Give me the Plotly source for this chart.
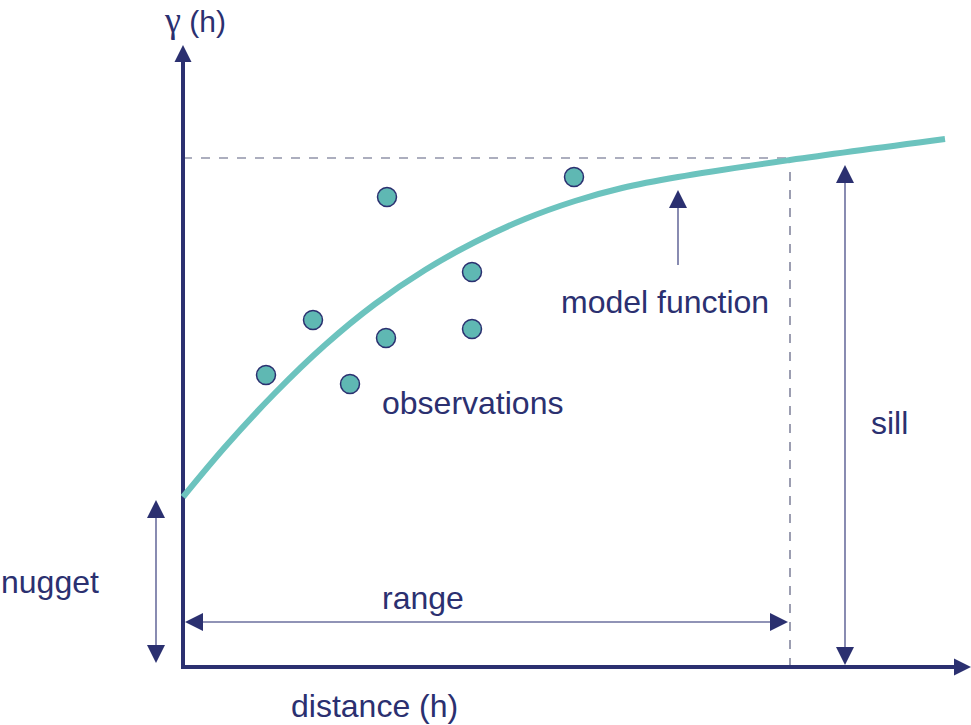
import plotly.graph_objects as go

# ---- data (units: distance h on x, semivariance gamma(h) on y) ----
model_h = [0, 42, 92, 142, 192, 242, 292, 342, 392, 439, 495, 607, 762]
model_gamma = [170, 220, 274, 322, 363, 397, 425, 448, 466, 479, 490, 507, 528]

obs_h = [83, 130, 204, 203, 167, 289, 289, 391]
obs_gamma = [292, 347, 470, 329, 283, 395, 338, 490]

nugget = 170
sill = 509
range_h = 607

NAVY = "#2b3070"
SHAFT = "#6b6f9e"
TEAL = "#6cc3be"
DOT = "#5fb8b3"
DASH = "#5a5e7e"
FONT = "Liberation Sans"

fig = go.Figure()

# model curve
fig.add_trace(go.Scatter(x=model_h, y=model_gamma, mode="lines",
                         line=dict(color=TEAL, width=6, shape="spline", smoothing=1.0),
                         hoverinfo="skip", showlegend=False))
# observations
fig.add_trace(go.Scatter(x=obs_h, y=obs_gamma, mode="markers",
                         marker=dict(size=19, color=DOT, line=dict(color=NAVY, width=1.5)),
                         hoverinfo="skip", showlegend=False))

shapes = []
annotations = []

def line(x0, y0, x1, y1, color, width, dash=None):
    shapes.append(dict(type="line", xref="x", yref="y", x0=x0, y0=y0, x1=x1, y1=y1,
                       line=dict(color=color, width=width, dash=dash), layer="below"))

def head(x, y, dx, dy, width, size):
    # dx, dy: pixel offset of the tail from the tip
    annotations.append(dict(x=x, y=y, xref="x", yref="y", ax=dx, ay=dy, text="",
                            showarrow=True, arrowhead=2, arrowwidth=width, arrowsize=size,
                            arrowcolor=NAVY))

# dashed sill / range guides
line(0, sill, range_h, sill, DASH, 1.2, "dash")
line(range_h, 0, range_h, sill, DASH, 1.2, "dash")

# axes
line(-2, 0, 775, 0, NAVY, 4)
line(0, -2, 0, 610, NAVY, 4)
head(0, 622, 0, 18, 4, 0.85)
head(788, 0, -18, 0, 4, 0.85)

HS = 2.4
# nugget double arrow
line(-27, 10, -27, 160, SHAFT, 1.6)
head(-27, nugget - 3, 0, 16, 1.5, HS)
head(-27, 4, 0, -16, 1.5, HS)

# range double arrow
line(8, 45, 598, 45, SHAFT, 1.6)
head(2, 45, 16, 0, 1.5, HS)
head(range_h - 2, 45, -16, 0, 1.5, HS)

# sill double arrow
line(662, 8, 662, 495, SHAFT, 1.6)
head(662, 502, 0, 16, 1.5, HS)
head(662, 2, 0, -16, 1.5, HS)

# model function pointer
line(495, 402, 495, 470, SHAFT, 1.6)
head(495, 477, 0, 16, 1.5, HS)

labels = [
    ('<span style="font-family:Liberation Serif;font-size:36px">γ</span> (h)', 12, 647, 30),
    ("model function", 482, 365, 32),
    ("observations", 289, 264, 32),
    ("sill", 706, 244, 32),
    ("nugget", -133, 85, 32),
    ("range", 240, 69, 32),
    ("distance (h)", 191, -39, 32),
]
for txt, x, y, s in labels:
    annotations.append(dict(x=x, y=y, xref="x", yref="y", text=txt, showarrow=False,
                            font=dict(family=FONT, size=s, color=NAVY),
                            xanchor="center", yanchor="middle"))

fig.update_layout(
    width=971, height=725,
    margin=dict(l=0, r=0, t=0, b=0),
    paper_bgcolor="white", plot_bgcolor="white",
    xaxis=dict(range=[-183, 788], visible=False, fixedrange=True),
    yaxis=dict(range=[-58, 667], visible=False, fixedrange=True),
    shapes=shapes, annotations=annotations,
)

fig.write_html("out.html", config={"displayModeBar": False},
               post_script="document.body.style.margin='0px';document.body.style.overflow='hidden';")
